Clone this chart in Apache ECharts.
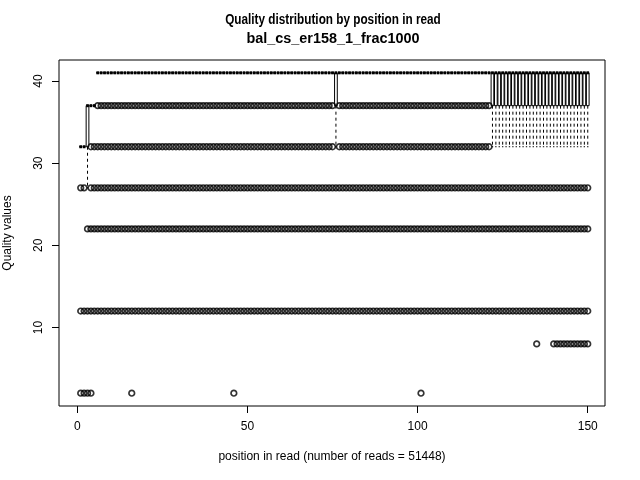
<!DOCTYPE html>
<html>
<head>
<meta charset="utf-8">
<script src="https://cdn.jsdelivr.net/npm/echarts@6/dist/echarts.min.js"></script>
<style>html,body{margin:0;padding:0;background:#fff}#c{width:640px;height:480px}</style>
</head>
<body>
<div id="c"></div>
<script>
// ---- data ----
const titleLines = ['Quality distribution by position in read', 'bal_cs_er158_1_frac1000'];
const xTitle = 'position in read (number of reads = 51448)';
const yTitle = 'Quality values';
const xTicks = [0, 50, 100, 150];
const yTicks = [10, 20, 30, 40];

// box statistics, given as runs of read positions sharing the same box
const boxPosStart = [1, 3, 4, 6, 76, 77, 122];
const boxPosEnd   = [2, 3, 5, 75, 76, 121, 150];
const boxLow      = [32, 27, 37, 41, 32, 41, 32];
const boxQ1       = [32, 32, 37, 41, 37, 41, 37];
const boxMed      = [32, 37, 37, 41, 41, 41, 41];
const boxQ3       = [32, 37, 37, 41, 41, 41, 41];
const boxHigh     = [32, 37, 37, 41, 41, 41, 41];

// outlier quality values and the runs of positions where they occur
const outlierLevels = [37, 32, 27, 22, 12, 8, 2];
const outlierRuns = [
  [[6, 75], [77, 121]],
  [[4, 75], [77, 121]],
  [[1, 2], [4, 150]],
  [[3, 150]],
  [[1, 150]],
  [[135, 135], [140, 150]],
  [[1, 4], [16, 16], [46, 46], [101, 101]]
];

// ---- build series data ----
const boxData = [];
boxPosStart.forEach((s, i) => {
  for (let p = s; p <= boxPosEnd[i]; p++) {
    boxData.push([p, boxLow[i], boxQ1[i], boxMed[i], boxQ3[i], boxHigh[i]]);
  }
});
const outlierData = [];
outlierLevels.forEach((lv, i) => {
  outlierRuns[i].forEach(r => {
    for (let p = r[0]; p <= r[1]; p++) outlierData.push([p, lv]);
  });
});

const FONT = '"Liberation Sans", Arial, Helvetica, sans-serif';

function renderBox(params, api) {
  const pos = api.value(0), lo = api.value(1), q1 = api.value(2),
        med = api.value(3), q3 = api.value(4), hi = api.value(5);
  const cx = api.coord([pos, med])[0];
  const hw = api.size([0.8, 0])[0] / 2;
  const sw = api.size([0.4, 0])[0] / 2;
  const Y = v => api.coord([pos, v])[1];
  const blk = '#000';
  const ch = [];
  if (lo !== q1) ch.push({type: 'line', shape: {x1: cx, y1: Y(q1), x2: cx, y2: Y(lo)}, style: {stroke: blk, lineWidth: 1, lineDash: [3, 3]}});
  if (hi !== q3) ch.push({type: 'line', shape: {x1: cx, y1: Y(q3), x2: cx, y2: Y(hi)}, style: {stroke: blk, lineWidth: 1, lineDash: [3, 3]}});
  ch.push({type: 'line', shape: {x1: cx - sw, y1: Y(lo), x2: cx + sw, y2: Y(lo)}, style: {stroke: blk, lineWidth: 1}});
  ch.push({type: 'line', shape: {x1: cx - sw, y1: Y(hi), x2: cx + sw, y2: Y(hi)}, style: {stroke: blk, lineWidth: 1}});
  ch.push({type: 'rect', shape: {x: cx - hw, y: Y(q3), width: 2 * hw, height: Y(q1) - Y(q3)}, style: {fill: 'none', stroke: blk, lineWidth: 1}});
  ch.push({type: 'line', shape: {x1: cx - hw, y1: Y(med), x2: cx + hw, y2: Y(med)}, style: {stroke: blk, lineWidth: 3}});
  return {type: 'group', children: ch};
}

const chart = echarts.init(document.getElementById('c'), null, {renderer: 'canvas'});
chart.setOption({
  animation: false,
  backgroundColor: '#fff',
  grid: {left: 59, right: 35, top: 60, bottom: 74, show: true, borderColor: '#000', borderWidth: 1,
         backgroundColor: 'transparent', containLabel: false, outerBoundsMode: 'none'},
  graphic: [
    {type: 'text', x: 333, y: 20, scaleX: 0.84, originX: 0, style: {text: titleLines[0], font: 'bold 14px ' + FONT, fill: '#000', textAlign: 'center', textVerticalAlign: 'middle'}},
    {type: 'text', x: 333, y: 39, scaleX: 1.03, originX: 0, style: {text: titleLines[1], font: 'bold 14px ' + FONT, fill: '#000', textAlign: 'center', textVerticalAlign: 'middle'}}
  ],
  xAxis: {
    type: 'value', min: -5.38, max: 155.07,
    splitLine: {show: false},
    axisLine: {show: false, onZero: false},
    axisTick: {show: true, customValues: xTicks, length: 7, lineStyle: {color: '#000'}},
    axisLabel: {customValues: xTicks, margin: 15, fontSize: 12, color: '#000', fontFamily: FONT},
    name: xTitle, nameLocation: 'middle', nameGap: 45,
    nameTextStyle: {fontSize: 12, color: '#000', fontFamily: FONT}
  },
  yAxis: {
    type: 'value', min: 0.44, max: 42.56,
    splitLine: {show: false},
    axisLine: {show: false, onZero: false},
    axisTick: {show: true, customValues: yTicks, length: 7, lineStyle: {color: '#000'}},
    axisLabel: {customValues: yTicks, rotate: 90, margin: 14, fontSize: 12, color: '#000', fontFamily: FONT},
    name: yTitle, nameLocation: 'middle', nameGap: 45, nameRotate: 90,
    nameTextStyle: {fontSize: 12, color: '#000', fontFamily: FONT}
  },
  series: [
    {type: 'custom', renderItem: renderBox, data: boxData, encode: {x: 0, y: [1, 2, 3, 4, 5]}, z: 2, silent: true},
    {type: 'scatter', data: outlierData, symbol: 'circle', symbolSize: 5.6, z: 3, silent: true,
     itemStyle: {color: 'rgba(0,0,0,0)', borderColor: '#000', borderWidth: 1.7}}
  ]
});
</script>
</body>
</html>
